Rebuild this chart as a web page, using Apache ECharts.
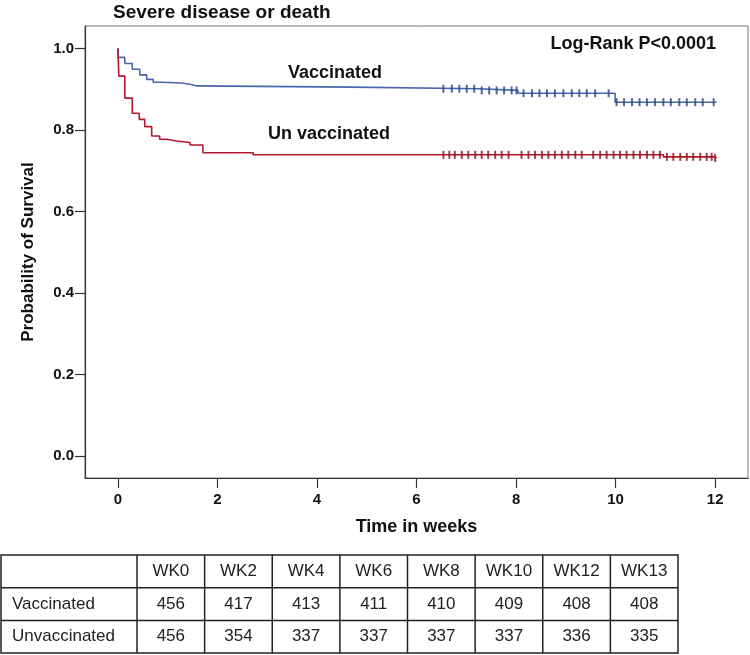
<!DOCTYPE html>
<html>
<head>
<meta charset="utf-8">
<script src="https://cdn.jsdelivr.net/npm/echarts@6/dist/echarts.min.js"></script>
<style>
html,body{margin:0;padding:0;background:#fff;}
#chart{width:750px;height:655px;}
</style>
</head>
<body>
<div id="chart"></div>
<script>
// ---- Data ----
const xTicks = [0, 2, 4, 6, 8, 10, 12];
const yTicks = [0, 0.2, 0.4, 0.6, 0.8, 1.0];

// Kaplan-Meier steps: time (weeks) and survival after the event at that time
const vaccTimes = [0, 0.01, 0.14, 0.29, 0.44, 0.58, 0.71, 0.88, 1.28, 1.45, 1.59, 4.70, 7.24, 8.04, 9.99, 12.03];
const vaccSurv  = [1.0, 0.978, 0.963, 0.949, 0.935, 0.924, 0.917, 0.915, 0.912, 0.908, 0.905, 0.901, 0.897, 0.890, 0.868, 0.868];

const unvTimes = [0, 0.02, 0.14, 0.29, 0.43, 0.54, 0.68, 0.84, 0.98, 1.18, 1.45, 1.71, 2.72, 10.96, 11.97, 12.03];
const unvSurv  = [1.0, 0.932, 0.878, 0.841, 0.826, 0.808, 0.785, 0.777, 0.773, 0.769, 0.763, 0.744, 0.739, 0.734, 0.731, 0.731];

// Censoring times (weeks)
const vaccCensor = [6.54, 6.71, 6.86, 7.01, 7.16, 7.31, 7.46, 7.61, 7.76, 7.91, 8.01,
  8.15, 8.32, 8.47, 8.62, 8.78, 8.95, 9.12, 9.27, 9.42, 9.59, 9.86,
  10.02, 10.17, 10.33, 10.48, 10.63, 10.79, 10.96, 11.11, 11.28, 11.43, 11.60, 11.75, 11.97];
const unvCensor = [6.54, 6.66, 6.77, 6.91, 7.04, 7.18, 7.31, 7.44, 7.58, 7.71, 7.85,
  8.11, 8.25, 8.38, 8.52, 8.65, 8.78, 8.92, 9.05, 9.19, 9.32,
  9.55, 9.69, 9.82, 9.96, 10.09, 10.22, 10.36, 10.49, 10.63, 10.76, 10.89, 11.03, 11.16,
  11.30, 11.43, 11.56, 11.70, 11.83, 11.93, 12.00];

// Number at risk table
const tableHeader = ['WK0', 'WK2', 'WK4', 'WK6', 'WK8', 'WK10', 'WK12', 'WK13'];
const rowNames = ['Vaccinated', 'Unvaccinated'];
const vaccAtRisk = [456, 417, 413, 411, 410, 409, 408, 408];
const unvAtRisk  = [456, 354, 337, 337, 337, 337, 336, 335];

// ---- Helpers ----
function pairs(ts, ss) { return ts.map((t, i) => [t, ss[i]]); }
function survAt(ts, ss, t) {
  let v = ss[0];
  for (let i = 0; i < ts.length; i++) { if (ts[i] <= t) v = ss[i]; }
  return v;
}
function censorPts(cs, ts, ss) { return cs.map(t => [t, survAt(ts, ss, t)]); }

const BLUE = '#4a66ad', BLUE_D = '#2a4289';
const RED = '#b3192b', RED_D = '#8c0f1c';
const FONT = 'Arial, "Liberation Sans", sans-serif';

// ---- Table graphics ----
const tL = 1, tT = 555, rowH = 32.7, c0 = 136, tR = 678;
const colW = (tR - tL - c0) / tableHeader.length;
const tB = tT + rowH * 3;
const g = [];
const lineStyle = { stroke: '#222', lineWidth: 1.5 };
g.push({ type: 'rect', shape: { x: tL, y: tT, width: tR - tL, height: tB - tT }, style: { fill: 'none', stroke: '#222', lineWidth: 1.5 } });
for (let r = 1; r < 3; r++) {
  g.push({ type: 'line', shape: { x1: tL, y1: tT + r * rowH, x2: tR, y2: tT + r * rowH }, style: lineStyle });
}
for (let c = 0; c < tableHeader.length; c++) {
  const x = tL + c0 + c * colW;
  g.push({ type: 'line', shape: { x1: x, y1: tT, x2: x, y2: tB }, style: lineStyle });
}
const rows = [tableHeader, vaccAtRisk, unvAtRisk];
rows.forEach((row, r) => {
  row.forEach((v, c) => {
    g.push({ type: 'text', x: tL + c0 + (c + 0.5) * colW, y: tT + (r + 0.5) * rowH,
      style: { text: String(v), fill: '#222', font: '17px ' + FONT, align: 'center', verticalAlign: 'middle' } });
  });
});
rowNames.forEach((n, i) => {
  g.push({ type: 'text', x: 12, y: tT + (i + 1.5) * rowH,
    style: { text: n, fill: '#222', font: '17px ' + FONT, align: 'left', verticalAlign: 'middle' } });
});

// ---- Annotations ----
g.push({ type: 'text', x: 113, y: 13, style: { text: 'Severe disease or death', fill: '#111', font: 'bold 19px ' + FONT, align: 'left', verticalAlign: 'middle' } });
g.push({ type: 'text', x: 716, y: 44, style: { text: 'Log-Rank P<0.0001', fill: '#111', font: 'bold 18px ' + FONT, align: 'right', verticalAlign: 'middle' } });
g.push({ type: 'text', x: 288, y: 73, style: { text: 'Vaccinated', fill: '#111', font: 'bold 18px ' + FONT, align: 'left', verticalAlign: 'middle' } });
g.push({ type: 'text', x: 268, y: 134, style: { text: 'Un vaccinated', fill: '#111', font: 'bold 18px ' + FONT, align: 'left', verticalAlign: 'middle' } });

const chart = echarts.init(document.getElementById('chart'), null, { renderer: 'canvas' });
chart.setOption({
  backgroundColor: '#fff',
  animation: false,
  grid: { left: 85, top: 26, right: 2, bottom: 177, show: true, borderColor: '#777', borderWidth: 1, backgroundColor: 'transparent' },
  xAxis: {
    type: 'value', min: -0.66, max: 12.66,
    name: 'Time in weeks', nameLocation: 'middle', nameGap: 40,
    nameTextStyle: { fontFamily: FONT, fontWeight: 'bold', fontSize: 18, color: '#111' },
    axisLine: { show: true, onZero: false, lineStyle: { color: '#333', width: 1.2 } },
    axisTick: { show: true, inside: false, length: 10, customValues: xTicks, lineStyle: { color: '#333', width: 1.2 } },
    axisLabel: { customValues: xTicks, fontFamily: FONT, fontWeight: 'bold', fontSize: 15, color: '#111', margin: 14 },
    splitLine: { show: false }
  },
  yAxis: {
    type: 'value', min: -0.054, max: 1.055,
    name: 'Probability of Survival', nameLocation: 'middle', nameGap: 48, nameRotate: 90,
    nameTextStyle: { fontFamily: FONT, fontWeight: 'bold', fontSize: 17, color: '#111' },
    axisLine: { show: true, onZero: false, lineStyle: { color: '#333', width: 1.2 } },
    axisTick: { show: true, inside: false, length: 10, customValues: yTicks, lineStyle: { color: '#333', width: 1.2 } },
    axisLabel: { customValues: yTicks, formatter: v => v.toFixed(1), fontFamily: FONT, fontWeight: 'bold', fontSize: 15, color: '#111', margin: 11 },
    splitLine: { show: false }
  },
  series: [
    { name: 'Vaccinated', type: 'line', step: 'end', symbol: 'none', data: pairs(vaccTimes, vaccSurv),
      lineStyle: { color: BLUE, width: 1.6 }, z: 3 },
    { name: 'Unvaccinated', type: 'line', step: 'end', symbol: 'none', data: pairs(unvTimes, unvSurv),
      lineStyle: { color: RED, width: 1.6 }, z: 3 },
    { type: 'scatter', symbol: 'rect', symbolSize: [2, 8], data: censorPts(vaccCensor, vaccTimes, vaccSurv),
      itemStyle: { color: BLUE_D }, z: 4 },
    { type: 'scatter', symbol: 'rect', symbolSize: [2, 8], data: censorPts(unvCensor, unvTimes, unvSurv),
      itemStyle: { color: RED_D }, z: 4 }
  ],
  graphic: g
});
</script>
</body>
</html>
